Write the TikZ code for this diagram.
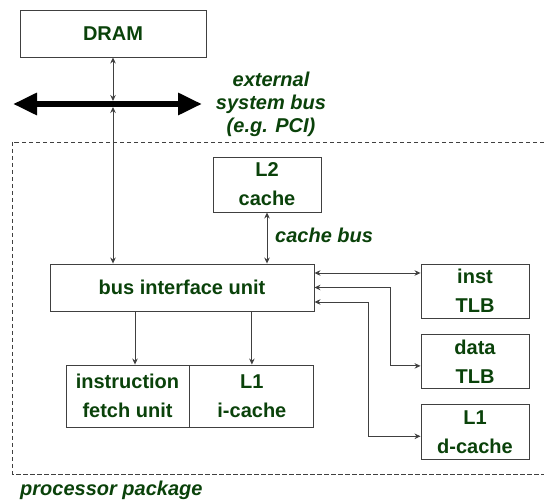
\documentclass[tikz,border=0pt]{standalone}
\usepackage{fontspec}
\setmainfont{Liberation Sans}
\usepackage{tikz}
\usetikzlibrary{positioning, arrows.meta}
\usepackage{xcolor}
\definecolor{darkgreen}{RGB}{10,66,10}

\begin{document}
\begin{tikzpicture}[x=1pt, y=1pt, node distance=10pt,
  >={Stealth[length=6pt, width=5.5pt]},
  box/.style={draw=black!75, line width=0.9pt, inner sep=0pt, align=center, text=darkgreen,
    font=\bfseries\fontsize{20}{29}\selectfont},
  lbl/.style={text=darkgreen, inner sep=0pt, align=center, font=\bfseries\itshape\fontsize{20}{23}\selectfont},
  conn/.style={draw=black!75, line width=0.9pt}]
  \useasboundingbox (0,0) rectangle (544,501);

  \coordinate (busl) at (13,397);
  \coordinate (busr) at (202,397);
  \coordinate (busup) at (113,400);
  \coordinate (busdn) at (113,394);

  \node[box, minimum width=186pt, minimum height=47pt]                  (dram)   at (113,467.5) {DRAM};
  \node[lbl]                                                            (extbus) at (271,397) {external\\system bus\\(e.g. PCI)};
  \node[box, minimum width=108pt, minimum height=55pt]                  (ltwo)   at (267,316.5) {L2\\cache};
  \node[box, minimum width=264pt, minimum height=47pt]                  (biu)    at (182,213.5) {bus interface unit};
  \node[lbl, anchor=west]                                               (cbus)   at (275,266) {cache bus};
  \node[box, minimum width=123pt, minimum height=62pt]                  (ifu)    at (127.5,105) {instruction\\fetch unit};
  \node[box, minimum width=124pt, minimum height=62pt, right=0pt of ifu] (lonei)  {L1\\i-cache};
  \node[box, minimum width=108pt, minimum height=54pt]                  (itlb)   at (475,210) {inst\\TLB};
  \node[box, minimum width=108pt, minimum height=54pt, below=16pt of itlb] (dtlb) {data\\TLB};
  \node[box, minimum width=108pt, minimum height=55pt, below=15pt of dtlb] (lond) {L1\\d-cache};
  \node[lbl, anchor=west]                                               (pkg)    at (20,11) {processor package};

  % processor package frame
  \draw[black!75, line width=0.8pt, dash pattern=on 4.5pt off 2.5pt] (544,359) -- (12,359) -- (12,27) -- (544,27);

  % system bus
  \draw[line width=6pt, {Triangle[length=24pt, width=21pt]}-{Triangle[length=24pt, width=21pt]}] (busl) -- (busr);

  \draw[conn, <->] (dram.south -| busup) -- (busup);
  \draw[conn, <->] (busdn) -- (biu.north -| busdn);
  \draw[conn, <->] (ltwo.south) -- (biu.north -| ltwo.south);
  \draw[conn, ->] ([xshift=7.5pt]ifu.north |- biu.south) -- ([xshift=7.5pt]ifu.north);
  \draw[conn, ->] (biu.south -| lonei.north) -- (lonei.north);
  \draw[conn, <->] ([yshift=14.5pt]biu.east) -- ([yshift=14.5pt]biu.east -| itlb.west);
  \draw[conn, <->] (biu.east) -- ++(76,0) |- ([yshift=-4pt]dtlb.west);
  \draw[conn, <->] ([yshift=-14.5pt]biu.east) -- ++(54,0) |- ([yshift=-4pt]lond.west);
\end{tikzpicture}
\end{document}
